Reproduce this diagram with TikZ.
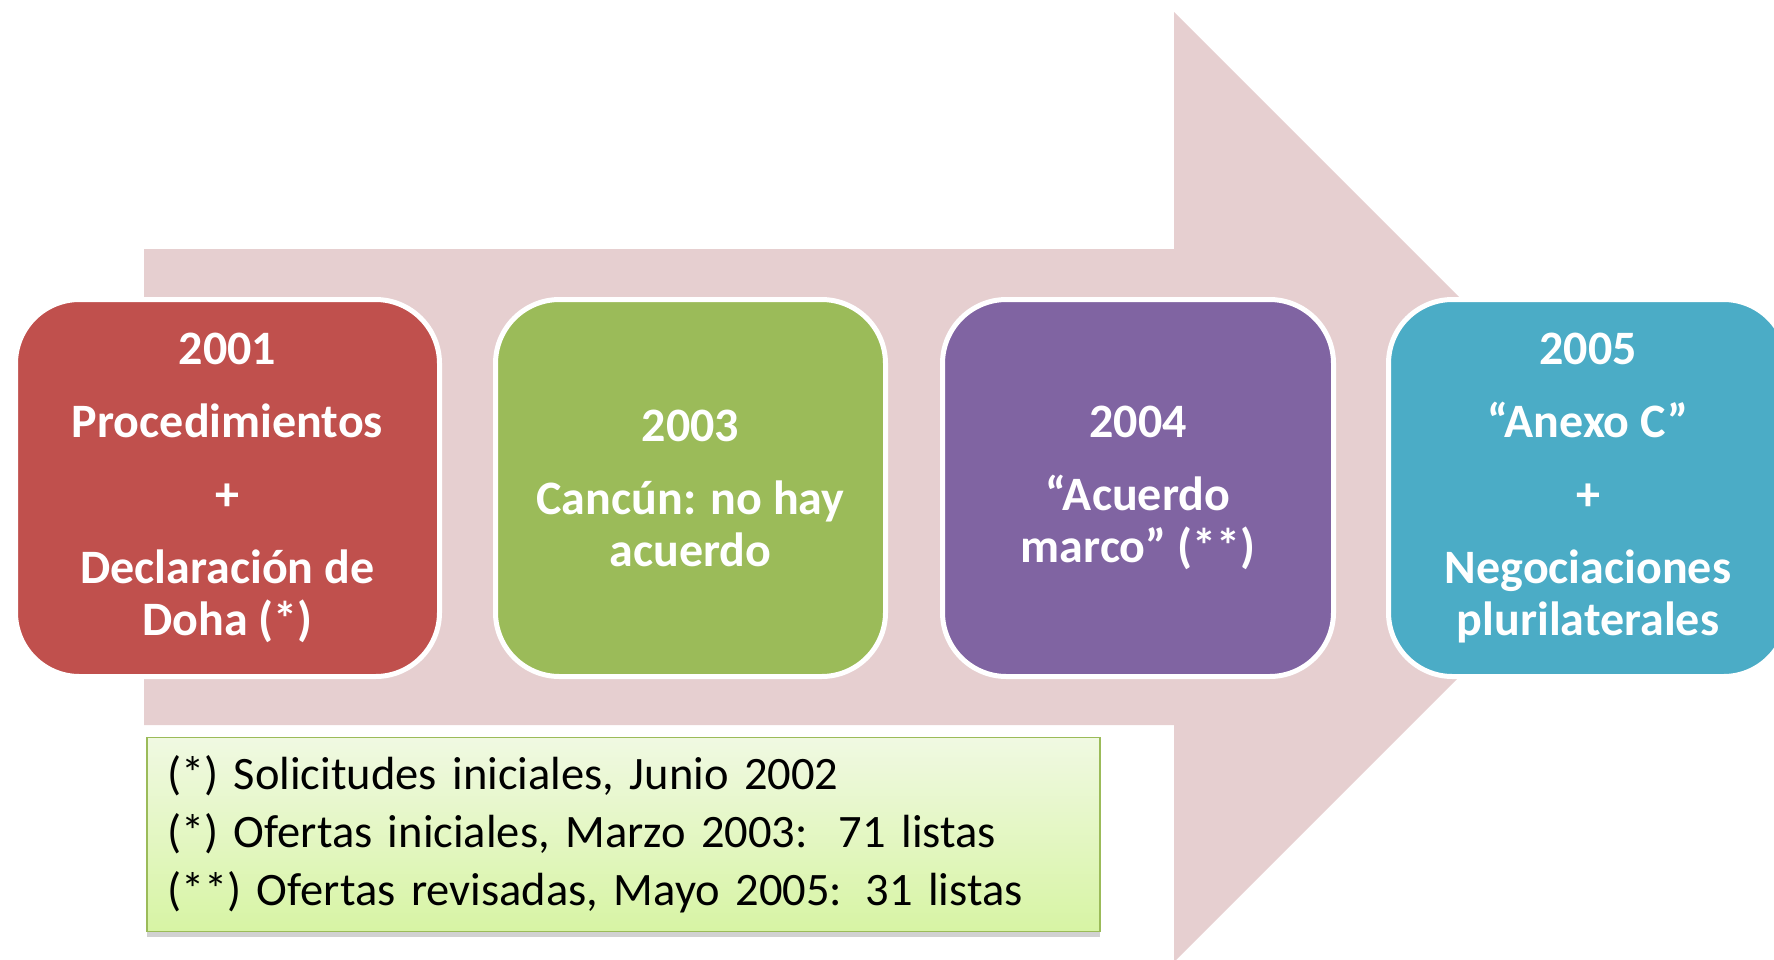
\documentclass[tikz,border=0pt]{standalone}
\usepackage{fontspec}
\setmainfont{Carlito}
\usetikzlibrary{shadows}
\definecolor{arrowpink}{RGB}{230,207,208}
\definecolor{cred}{RGB}{192,80,77}
\definecolor{cgreen}{RGB}{155,187,89}
\definecolor{cpurple}{RGB}{128,100,162}
\definecolor{cblue}{RGB}{75,172,198}
\definecolor{notetop}{RGB}{240,249,226}
\definecolor{notebot}{RGB}{215,244,164}
\definecolor{noteborder}{RGB}{155,187,89}
\tikzset{
  stagebox/.style={draw=white, line width=5pt, rounded corners=64pt,
    minimum height=377pt, inner sep=0pt, align=center, text=white,
    font=\fontsize{48}{52}\selectfont\bfseries},
  notebox/.style={draw=noteborder, line width=1.5pt, top color=notetop, bottom color=notebot,
    minimum width=953pt, minimum height=194pt, text width=913pt, inner xsep=20pt,
    align=left, font=\fontsize{46.5}{58}\selectfont,
    drop shadow={shadow xshift=0pt, shadow yshift=-5pt, opacity=0.3, fill=black!60}}
}
\begin{document}
\begin{tikzpicture}[x=1pt,y=-1pt]
\useasboundingbox (0,0) rectangle (1774,959);
\begin{scope}
\clip (0,0) rectangle (1774,959);
\fill[arrowpink] (144,249) -- (1174,249) -- (1174,12) -- (1649,487) -- (1174,962)
  -- (1174,725) -- (144,725) -- cycle;
\node[stagebox, fill=cred, minimum width=424pt] (b2001) at (227.5,488)
  {2001\\[21pt]Procedimientos\\[21pt]+\\[21pt]Declaración de\\Doha (*)};
\node[stagebox, fill=cgreen, minimum width=390pt] (b2003) at (690.5,488)
  {2003\\[21pt]Cancún: no hay\\acuerdo};
\node[stagebox, fill=cpurple, minimum width=391pt] (b2004) at (1138,488)
  {2004\\[21pt]“Acuerdo\\marco” (**)};
\node[stagebox, fill=cblue, minimum width=399pt] (b2005) at (1588,488)
  {2005\\[21pt]“Anexo C”\\[21pt]+\\[21pt]Negociaciones\\plurilaterales};
\node[notebox] (note) at (623.5,834.5)
  {(*) Solicitudes iniciales, Junio 2002\\
   (*) Ofertas iniciales, Marzo 2003:\ \ 71 listas\\
   (**) Ofertas revisadas, Mayo 2005: 31 listas};
\end{scope}
\end{tikzpicture}
\end{document}
